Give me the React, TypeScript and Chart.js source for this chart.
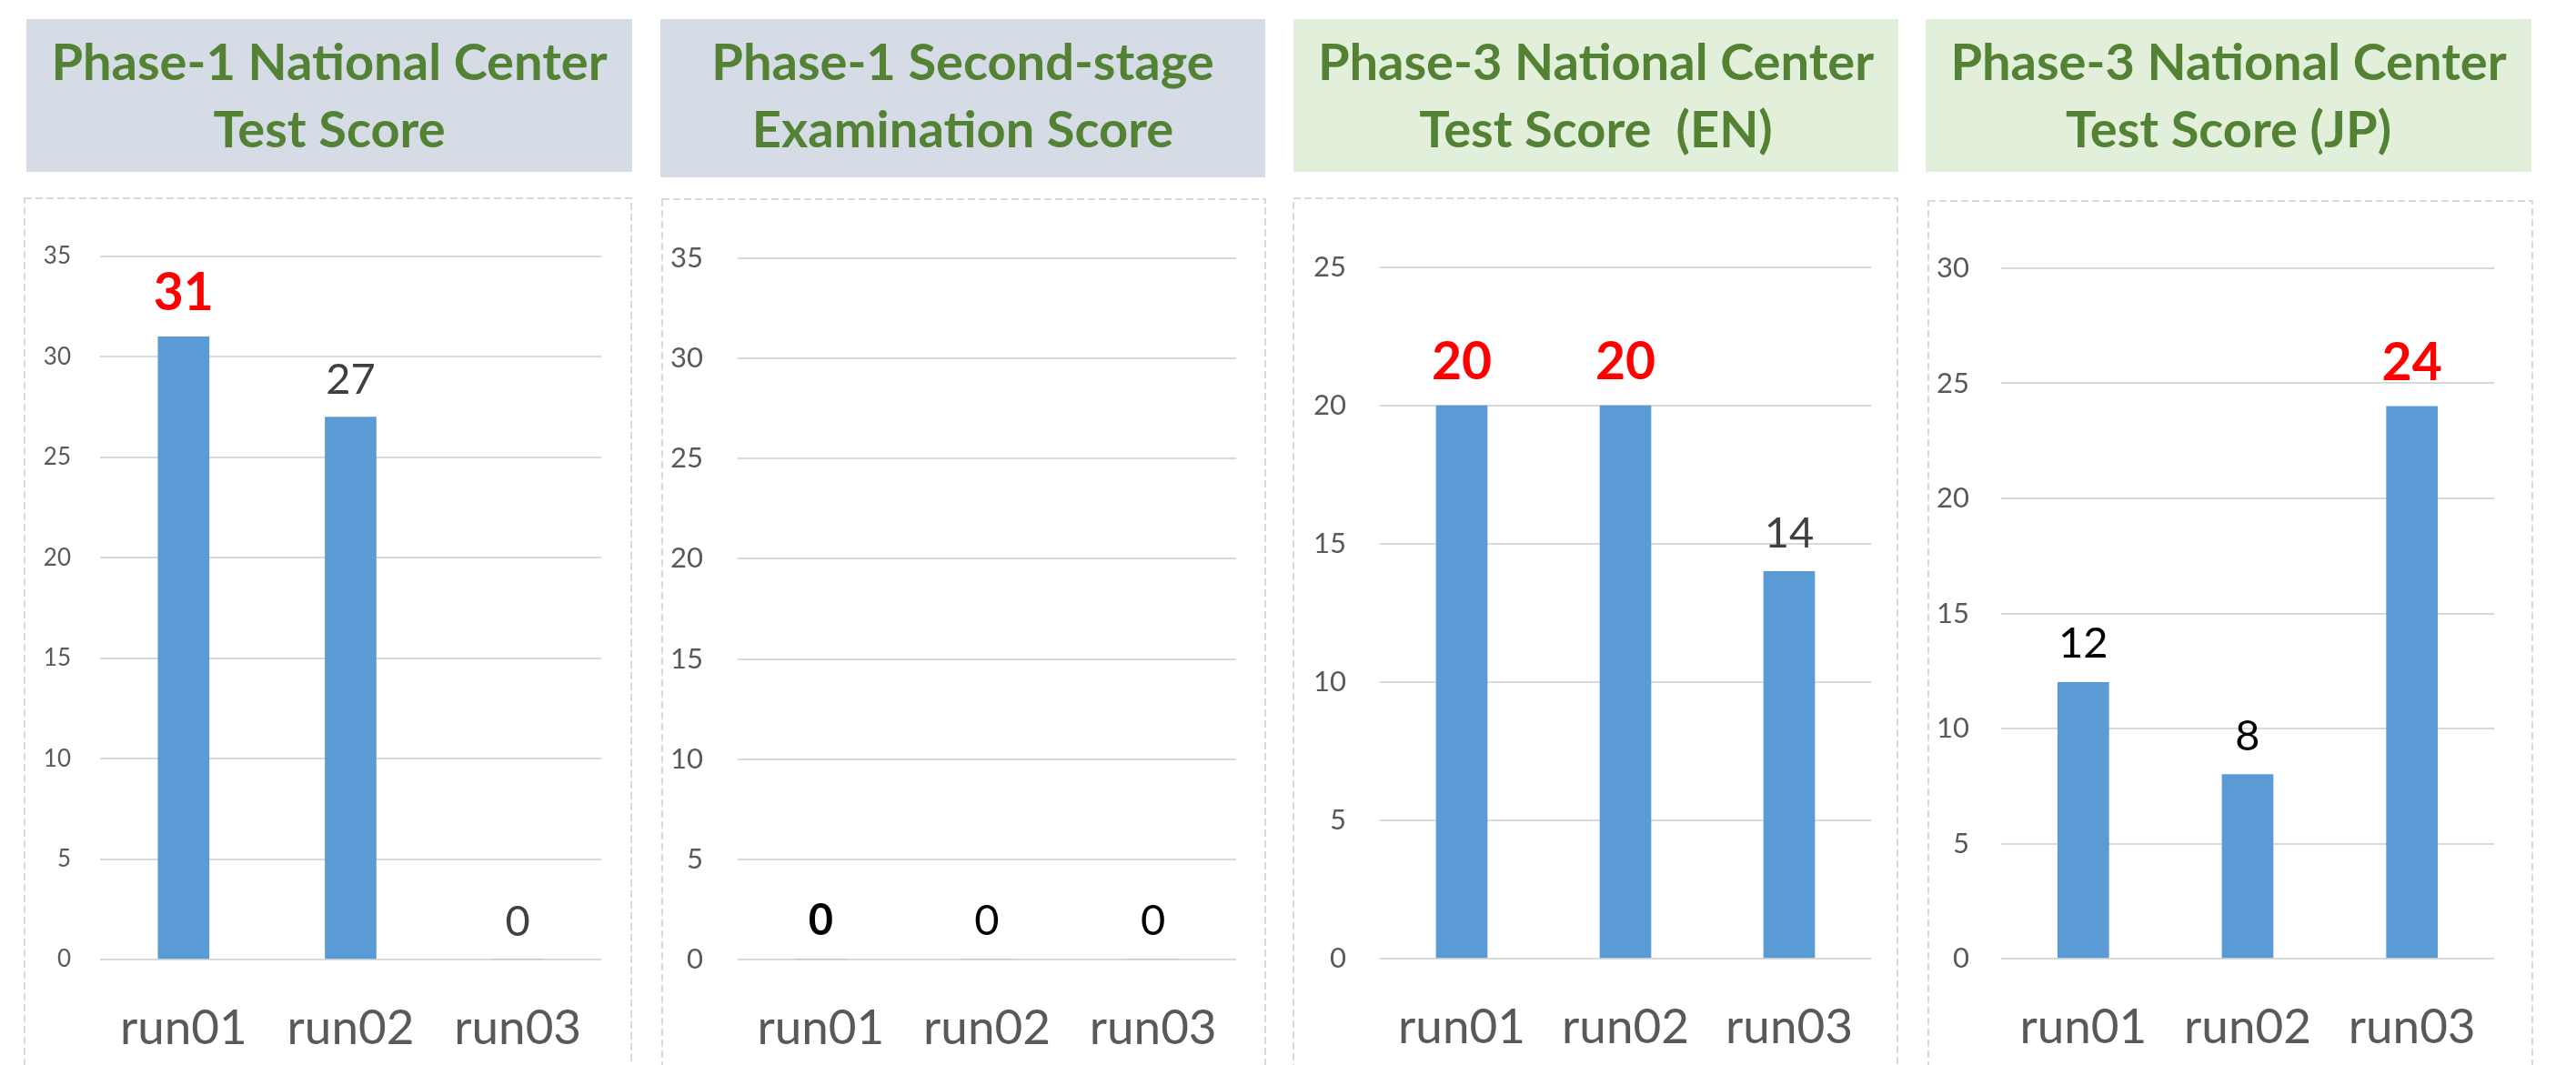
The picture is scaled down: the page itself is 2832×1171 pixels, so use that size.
import React, { useEffect, useRef } from "react";
import { Chart, registerables } from "chart.js";

Chart.register(...registerables);

// ---------- data ----------
const categories = ["run01", "run02", "run03"];

const phase1CenterScores = [31, 27, 0];
const phase1SecondStageScores = [0, 0, 0];
const phase3CenterEnScores = [20, 20, 14];
const phase3CenterJpScores = [12, 8, 24];

const yAxisMaxima = [35, 35, 25, 30];
const yAxisStep = 5;

const panelTitles = [
  ["Phase-1 National Center", "Test Score"],
  ["Phase-1 Second-stage", "Examination Score"],
  ["Phase-3 National Center", "Test Score\u00a0\u00a0(EN)"],
  ["Phase-3 National Center", "Test Score (JP)"],
];

// which value label is emphasised how
const labelKinds = [
  ["red", "gray", "gray"],
  ["boldBlack", "black", "black"],
  ["red", "red", "gray"],
  ["black", "black", "red"],
];

// ---------- styles ----------
const FONT = "Lato, 'Open Sans', sans-serif";
const BAR_COLOR = "#5B9BD5";
const TITLE_GREEN = "#548235";
const GRID_COLOR = "#d9d9d9";
const TICK_COLOR = "#595959";
const PAGE_H = 1171;

const labelStyles: Record<string, { color: string; bold: boolean; size: number; gap: number }> = {
  red: { color: "#FF0000", bold: true, size: 57, gap: 29 },
  gray: { color: "#404040", bold: false, size: 47, gap: 26 },
  black: { color: "#000000", bold: false, size: 47, gap: 27 },
  boldBlack: { color: "#000000", bold: true, size: 47, gap: 27 },
};

const layouts = [
  { box: { x: 26, y: 217, w: 669 }, title: { x: 29, y: 21, w: 666, h: 168, bg: "#D6DCE5" }, plotLeft: 84, plotRight: 34, plotTop: 65, zeroY: 838, tickSize: 26, tickGap: 32 },
  { box: { x: 727, y: 218, w: 665 }, title: { x: 726, y: 21, w: 665, h: 174, bg: "#D6DCE5" }, plotLeft: 84, plotRight: 33, plotTop: 66, zeroY: 837, tickSize: 31, tickGap: 38 },
  { box: { x: 1421, y: 217, w: 666 }, title: { x: 1422, y: 21, w: 665, h: 168, bg: "#E2EFDA" }, plotLeft: 96, plotRight: 30, plotTop: 77, zeroY: 837, tickSize: 31, tickGap: 37 },
  { box: { x: 2119, y: 220, w: 666 }, title: { x: 2117, y: 21, w: 666, h: 168, bg: "#E2EFDA" }, plotLeft: 81, plotRight: 43, plotTop: 75, zeroY: 834, tickSize: 31, tickGap: 35 },
];

const panelValues = [phase1CenterScores, phase1SecondStageScores, phase3CenterEnScores, phase3CenterJpScores];

const valueLabelPlugin = {
  id: "valueLabels",
  afterDatasetsDraw(chart: any, _args: any, opts: any) {
    const { ctx } = chart;
    const meta = chart.getDatasetMeta(0);
    const data = chart.data.datasets[0].data;
    meta.data.forEach((bar: any, i: number) => {
      const st = labelStyles[opts.kinds[i]];
      ctx.save();
      ctx.font = `${st.bold ? "bold " : ""}${st.size}px ${FONT}`;
      ctx.fillStyle = st.color;
      ctx.textAlign = "center";
      ctx.textBaseline = "alphabetic";
      ctx.fillText(String(data[i]), bar.x, bar.y - st.gap);
      ctx.restore();
    });
  },
};

function Panel({ index }: { index: number }) {
  const ref = useRef<HTMLCanvasElement>(null);
  const L = layouts[index];
  const canvasH = PAGE_H - L.box.y;

  useEffect(() => {
    const canvas = ref.current!;
    const chart = new Chart(canvas, {
      type: "bar",
      data: {
        labels: categories,
        datasets: [
          {
            data: panelValues[index],
            backgroundColor: BAR_COLOR,
            borderWidth: 0,
            barThickness: 56,
          },
        ],
      },
      options: {
        animation: false,
        responsive: false,
        maintainAspectRatio: false,
        events: [],
        layout: { padding: { top: L.plotTop, right: L.plotRight, left: 0, bottom: 0 } },
        plugins: {
          legend: { display: false },
          tooltip: { enabled: false },
          title: { display: false },
          valueLabels: { kinds: labelKinds[index] },
        } as any,
        scales: {
          x: {
            grid: { display: false },
            border: { display: false },
            ticks: {
              color: TICK_COLOR,
              font: { family: FONT, size: 53 },
              padding: 36,
              maxRotation: 0,
              autoSkip: false,
            },
            afterFit: (s: any) => {
              s.height = canvasH - L.zeroY;
            },
          },
          y: {
            min: 0,
            max: yAxisMaxima[index],
            ticks: {
              stepSize: yAxisStep,
              color: TICK_COLOR,
              font: { family: FONT, size: L.tickSize },
              padding: L.tickGap,
            },
            grid: { color: GRID_COLOR, lineWidth: 2, drawTicks: false },
            border: { display: false },
            afterFit: (s: any) => {
              s.width = L.plotLeft;
            },
          },
        },
      },
      plugins: [valueLabelPlugin],
    });
    return () => chart.destroy();
  }, [index]);

  return (
    <>
      <div
        style={{
          position: "absolute",
          left: L.title.x,
          top: L.title.y,
          width: L.title.w,
          height: L.title.h,
          background: L.title.bg,
          color: TITLE_GREEN,
          fontFamily: FONT,
          fontWeight: 700,
          fontSize: 56,
          lineHeight: "74px",
          textAlign: "center",
          paddingTop: 9,
          boxSizing: "border-box",
          whiteSpace: "nowrap",
        }}
      >
        <div>{panelTitles[index][0]}</div>
        <div>{panelTitles[index][1]}</div>
      </div>
      <svg
        style={{ position: "absolute", left: L.box.x, top: L.box.y }}
        width={L.box.w}
        height={canvasH + 40}
      >
        <rect
          x={1}
          y={1}
          width={L.box.w - 2}
          height={canvasH + 20}
          fill="none"
          stroke={GRID_COLOR}
          strokeWidth={2}
          strokeDasharray="8 4"
        />
      </svg>
      <canvas
        ref={ref}
        width={L.box.w}
        height={canvasH}
        style={{ position: "absolute", left: L.box.x, top: L.box.y, width: L.box.w, height: canvasH }}
      />
    </>
  );
}

export default function App() {
  return (
    <div
      style={{
        position: "fixed",
        left: 0,
        top: 0,
        width: 2832,
        height: PAGE_H,
        background: "#ffffff",
        overflow: "hidden",
      }}
    >
      {layouts.map((_, i) => (
        <Panel key={i} index={i} />
      ))}
    </div>
  );
}
